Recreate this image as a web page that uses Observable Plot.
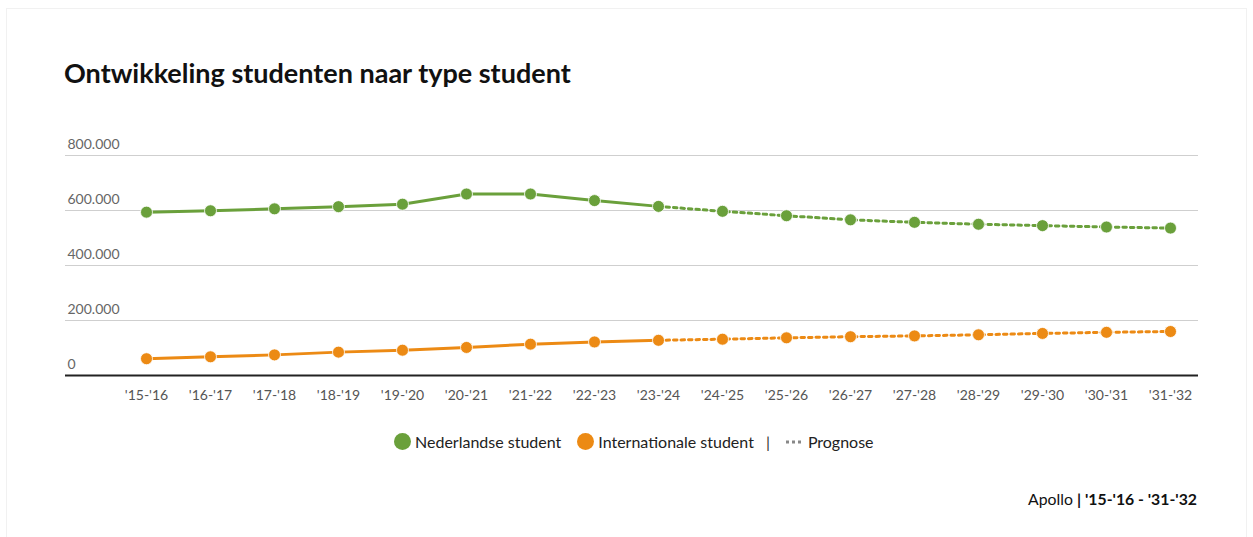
<!DOCTYPE html>
<html><head><meta charset="utf-8">
<script src="https://cdn.jsdelivr.net/npm/d3@7"></script>
<script src="https://cdn.jsdelivr.net/npm/@observablehq/plot@0.6"></script>
<style>
body{margin:0;background:#fff;font-family:Lato,sans-serif;width:1253px;height:537px;overflow:hidden;position:relative}
#card{position:absolute;left:6px;top:8px;width:1241px;height:560px;border:1px solid #f1f1f1;box-sizing:border-box}
#title{position:absolute;left:64px;top:56px;font-size:27px;font-weight:700;color:#111;white-space:nowrap}
#chart{position:absolute;left:0;top:130px}
#legend{position:absolute;top:432px;left:394px;display:flex;align-items:center;font-size:16px;color:#222;white-space:nowrap}
#legend .sw{display:inline-block;width:17px;height:17px;border-radius:50%;margin-right:4px}
#legend .item{display:flex;align-items:center;margin-right:16px}
#caption{position:absolute;top:489px;right:56px;font-size:15.8px;color:#111;white-space:nowrap}
</style>
</head><body>
<div id="card"></div>
<div id="title">Ontwikkeling studenten naar type student</div>
<div id="chart"></div>
<div id="legend"></div>
<div id="caption">Apollo <b>| '15-'16 - '31-'32</b></div>
<script>
const years = ["'15-'16","'16-'17","'17-'18","'18-'19","'19-'20","'20-'21","'21-'22","'22-'23","'23-'24","'24-'25","'25-'26","'26-'27","'27-'28","'28-'29","'29-'30","'30-'31","'31-'32"];
const nederlandse = [594000,599000,606000,614000,623000,660000,660000,636000,615000,597000,581000,566000,557000,550000,545000,540000,536000];
const internationale = [61000,68000,75000,85000,92000,102000,114000,122000,128000,132000,137000,141000,144000,148000,153000,157000,160000];
const lastActualIndex = 8;
const yTicks = [0,200000,400000,600000,800000];
const seriesNames = ["Nederlandse student","Internationale student"];
const seriesColors = ["#6aa03b","#ec8a14"];

const rows = [];
years.forEach((yr,i)=>{
  rows.push({year:yr, i, series:seriesNames[0], value:nederlandse[i]});
  rows.push({year:yr, i, series:seriesNames[1], value:internationale[i]});
});
const actual = rows.filter(d=>d.i<=lastActualIndex);
const forecast = rows.filter(d=>d.i>=lastActualIndex);

const fmt = d3.formatLocale({decimal:",",thousands:".",grouping:[3],currency:["€",""]}).format(",d");

const chart = Plot.plot({
  width:1253, height:280,
  marginLeft:65, marginRight:55, marginTop:25, marginBottom:35,
  style:{fontFamily:"Lato, sans-serif", background:"transparent"},
  x:{type:"point", domain:years, range:[146,1170], padding:0},
  y:{domain:[0,800000], axis:null},
  color:{domain:seriesNames, range:seriesColors},
  marks:[
    Plot.ruleY(yTicks.filter(d=>d>0), {stroke:"#cfcfcf", strokeWidth:1.2}),
    Plot.text(yTicks, {y:d=>d, text:d=>fmt(d), frameAnchor:"left", textAnchor:"start", dx:2, dy:-11, fontSize:14, fill:"#666"}),
    Plot.axisX({tickSize:0, tickPadding:15, fontSize:14, color:"#555", label:null}),
    Plot.lineY(actual, {x:"year", y:"value", z:"series", stroke:"series", strokeWidth:3}),
    Plot.lineY(forecast, {x:"year", y:"value", z:"series", stroke:"series", strokeWidth:3, strokeDasharray:"3.5,4"}),
    Plot.dot(rows, {x:"year", y:"value", fill:"series", r:6, stroke:"#fff", strokeWidth:0.8}),
    Plot.ruleY([0], {stroke:"#222", strokeWidth:2})
  ]
});
document.getElementById("chart").appendChild(chart);

const legend = document.getElementById("legend");
seriesNames.forEach((n,i)=>{
  const it = document.createElement("div"); it.className="item";
  const sw = document.createElement("span"); sw.className="sw"; sw.style.background=seriesColors[i];
  it.appendChild(sw); it.appendChild(document.createTextNode(n));
  legend.appendChild(it);
});
const sep = document.createElement("span"); sep.textContent="|"; sep.style.margin="0 16px 0 -4px"; sep.style.color="#333";
legend.appendChild(sep);
const pg = document.createElement("div"); pg.className="item";
pg.innerHTML = '<svg width="16" height="6" style="margin-right:6px"><line x1="0" y1="3" x2="16" y2="3" stroke="#888" stroke-width="3" stroke-dasharray="3,3"/></svg>Prognose';
legend.appendChild(pg);
</script>
</body></html>
